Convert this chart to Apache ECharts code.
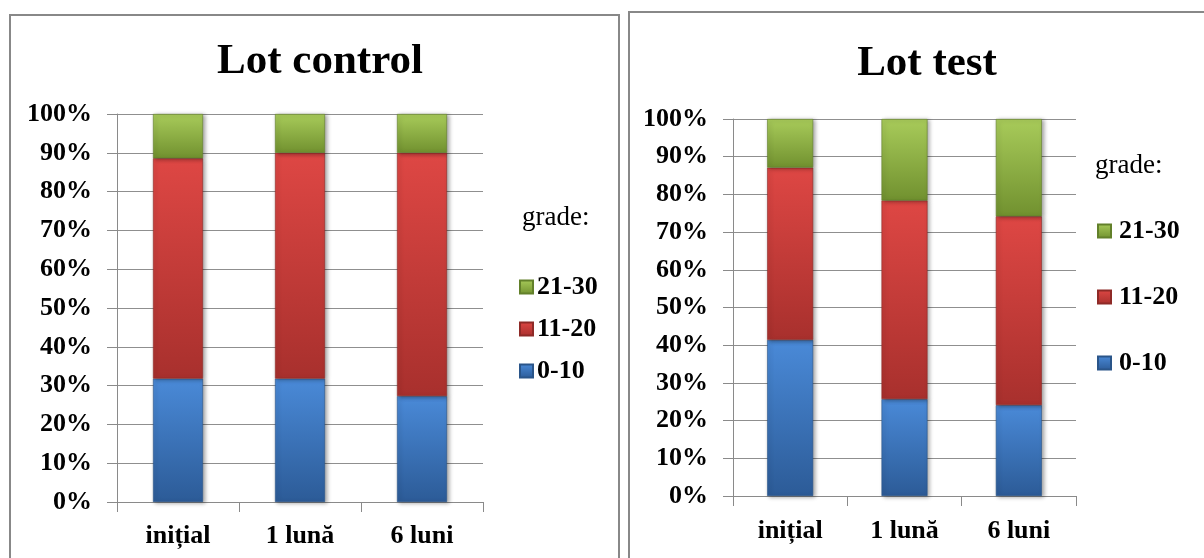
<!DOCTYPE html>
<html>
<head>
<meta charset="utf-8">
<script src="https://cdn.jsdelivr.net/npm/echarts@6/dist/echarts.min.js"></script>
<style>
html,body{margin:0;padding:0;background:#fff;}
#c{width:1204px;height:558px;}
</style>
</head>
<body>
<div id="c"></div>
<script>
// ---- data ----
var categories = ['inițial', '1 lună', '6 luni'];
var seriesNames = ['0-10', '11-20', '21-30'];
var controlLow = [31.8, 31.8, 27.3];
var controlMid = [56.8, 58.2, 62.7];
var controlHigh = [11.4, 10.0, 10.0];
var testLow = [41.4, 25.7, 24.1];
var testMid = [45.7, 52.7, 50.1];
var testHigh = [12.9, 21.6, 25.8];
var panelTitles = ['Lot control', 'Lot test'];
var legendTitle = 'grade:';

var FONT = '"Liberation Serif","Times New Roman",serif';

function grad(top, bottom) {
  return new echarts.graphic.LinearGradient(0, 0, 0, 1, [
    {offset: 0, color: top},
    {offset: 1, color: bottom}
  ]);
}
var colors = {
  '0-10': grad('#4a8ad8', '#2c5b97'),
  '11-20': grad('#de4744', '#a8302d'),
  '21-30': grad('#a8cb5a', '#71912f')
};
var borders = {'0-10': '#2a5589', '11-20': '#8e2a27', '21-30': '#62802a'};

function mkSeries(name, data, idx, barW) {
  return {
    name: name, type: 'bar', stack: 'g' + idx,
    xAxisIndex: idx, yAxisIndex: idx,
    barWidth: barW, data: data,
    itemStyle: {
      color: colors[name],
      borderColor: borders[name], borderWidth: 0.6,
      shadowColor: 'rgba(0,0,0,0.35)', shadowBlur: 4, shadowOffsetX: 2, shadowOffsetY: 1
    }
  };
}

var grids = [
  {left: 117, top: 114, width: 366, height: 388},
  {left: 733, top: 119, width: 343, height: 377}
];

function xAx(i, margin) {
  return {
    type: 'category', gridIndex: i, data: categories,
    axisLine: {show: true, lineStyle: {color: '#8a8a8a', width: 1}},
    axisTick: {show: true, length: 10, lineStyle: {color: '#8a8a8a'}},
    axisLabel: {color: '#000', fontFamily: FONT, fontWeight: 'bold', fontSize: 26, margin: margin}
  };
}
function yAx(i) {
  return {
    type: 'value', gridIndex: i, min: 0, max: 100, interval: 10,
    axisLine: {show: true, lineStyle: {color: '#8a8a8a', width: 1}},
    axisTick: {show: true, length: 10, lineStyle: {color: '#8a8a8a'}},
    splitLine: {show: true, lineStyle: {color: '#8f8f8f', width: 1}},
    axisLabel: {color: '#000', fontFamily: FONT, fontWeight: 'bold', fontSize: 26, margin: 25,
      formatter: '{value}%'}
  };
}

var legendOrder = ['21-30', '11-20', '0-10'];

var option = {
  animation: false,
  backgroundColor: '#fff',
  title: [
    {text: panelTitles[0], left: 315, top: 35, textAlign: 'center',
     textStyle: {fontFamily: FONT, fontWeight: 'bold', fontSize: 43, color: '#000'}},
    {text: panelTitles[1], left: 922, top: 37, textAlign: 'center',
     textStyle: {fontFamily: FONT, fontWeight: 'bold', fontSize: 43, color: '#000'}},
    {text: legendTitle, left: 517, top: 199,
     textStyle: {fontFamily: FONT, fontWeight: 'normal', fontSize: 27, color: '#000'}},
    {text: legendTitle, left: 1090, top: 147,
     textStyle: {fontFamily: FONT, fontWeight: 'normal', fontSize: 27, color: '#000'}}
  ],
  legend: [
    {orient: 'vertical', left: 514, top: 269, itemWidth: 13, itemHeight: 13, itemGap: 16,
     icon: 'rect', data: legendOrder, selectedMode: false,
     textStyle: {fontFamily: FONT, fontWeight: 'bold', fontSize: 26, color: '#000', padding: [0, 0, 0, -1]}},
    {orient: 'vertical', left: 1092, top: 213, itemWidth: 13, itemHeight: 13, itemGap: 40,
     icon: 'rect', data: legendOrder, selectedMode: false,
     textStyle: {fontFamily: FONT, fontWeight: 'bold', fontSize: 26, color: '#000', padding: [0, 0, 0, 3]}}
  ],
  grid: grids,
  xAxis: [xAx(0, 21), xAx(1, 22)],
  yAxis: [yAx(0), yAx(1)],
  series: [
    mkSeries('0-10', controlLow, 0, 50),
    mkSeries('11-20', controlMid, 0, 50),
    mkSeries('21-30', controlHigh, 0, 50),
    mkSeries('0-10', testLow, 1, 46),
    mkSeries('11-20', testMid, 1, 46),
    mkSeries('21-30', testHigh, 1, 46)
  ],
  graphic: [
    {type: 'rect', shape: {x: 10, y: 15, width: 609, height: 600},
     style: {fill: 'none', stroke: '#888', lineWidth: 2}, silent: true},
    {type: 'rect', shape: {x: 629, y: 12, width: 600, height: 600},
     style: {fill: 'none', stroke: '#888', lineWidth: 2}, silent: true}
  ]
};

var chart = echarts.init(document.getElementById('c'), null, {renderer: 'canvas'});
chart.setOption(option);
</script>
</body>
</html>
